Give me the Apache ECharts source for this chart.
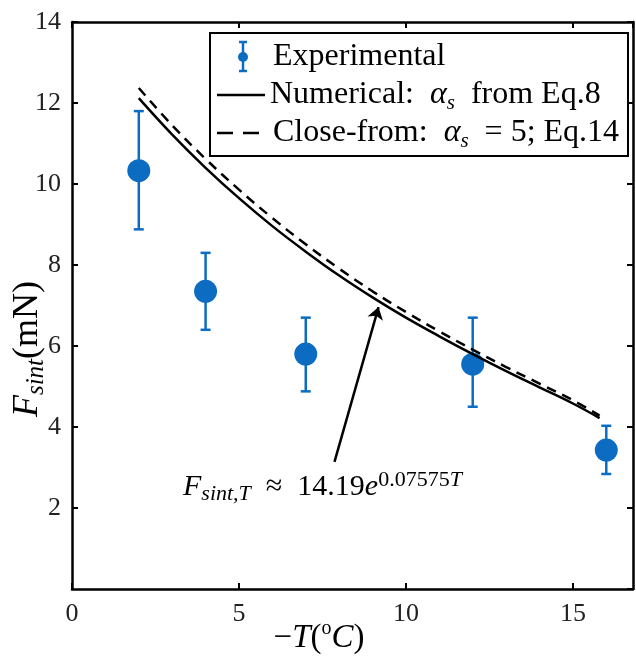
<!DOCTYPE html>
<html>
<head>
<meta charset="utf-8">
<script src="https://cdn.jsdelivr.net/npm/echarts@6/dist/echarts.min.js"></script>
<style>
  html, body { margin: 0; padding: 0; background: #fff; }
  #chart { width: 636px; height: 657px; }
</style>
</head>
<body>
<div id="chart"></div>
<script>
// experimental points (-T in degC, force in mN)
var expT = [2, 4, 7, 12, 16];
var expForce = [10.33, 7.35, 5.8, 5.55, 3.43];
var expLow = [8.88, 6.4, 4.88, 4.5, 2.84];
var expHigh = [11.8, 8.3, 6.7, 6.7, 4.03];

// model curves
var curveT = [2, 3, 4, 5, 6, 7, 8, 9, 10, 11, 12, 13, 14, 15, 15.8];
var numericalForce = [12.12, 11.22, 10.4, 9.65, 8.96, 8.33, 7.74, 7.2, 6.7, 6.24, 5.8, 5.38, 4.98, 4.58, 4.22];
var closedForce = [12.37, 11.45, 10.62, 9.86, 9.16, 8.51, 7.91, 7.35, 6.84, 6.36, 5.91, 5.48, 5.07, 4.66, 4.28];

// annotation arrow (tail -> head)
var arrowFrom = [7.86, 3.14];
var arrowTo = [9.18, 6.96];

var xTickStep = 5;
var yTickStep = 2;

var serif = '"Liberation Serif", "DejaVu Serif", serif';
var blue = '#0b6cc2';

function rich(size, subRatio) {
  var s = Math.round(size * (subRatio || 0.66));
  return {
    n: { fontFamily: serif, fontSize: size, lineHeight: size + 6, color: '#111' },
    i: { fontFamily: serif, fontStyle: 'italic', fontSize: size, lineHeight: size + 6, color: '#111' },
    sub: { fontFamily: serif, fontStyle: 'italic', fontSize: s, lineHeight: s, verticalAlign: 'bottom', color: '#111' },
    sup: { fontFamily: serif, fontSize: s, lineHeight: s, verticalAlign: 'top', color: '#111' },
    supi: { fontFamily: serif, fontStyle: 'italic', fontSize: s, lineHeight: s, verticalAlign: 'top', color: '#111' }
  };
}

var chart = echarts.init(document.getElementById('chart'));

var axisCommon = {
  axisLine: { show: true, onZero: false, lineStyle: { color: '#000', width: 2.5 } },
  axisTick: { show: true, inside: true, length: 6, lineStyle: { color: '#000', width: 2 } },
  splitLine: { show: false }
};

var option = {
  animation: false,
  backgroundColor: '#fff',
  grid: { left: 72, right: 3, top: 22, bottom: 68, containLabel: false, outerBoundsMode: 'none' },
  xAxis: [
    Object.assign({
      type: 'value', min: 0, max: 16.8, interval: xTickStep, position: 'bottom',
      axisLabel: { fontFamily: serif, fontSize: 26, color: '#222', margin: 12, showMaxLabel: false }
    }, axisCommon),
    Object.assign({
      type: 'value', min: 0, max: 16.8, interval: xTickStep, position: 'top',
      axisLabel: { show: false }
    }, axisCommon)
  ],
  yAxis: [
    Object.assign({
      type: 'value', min: 0, max: 14, interval: yTickStep, position: 'left',
      axisLabel: { fontFamily: serif, fontSize: 26, color: '#222', margin: 11, showMinLabel: false }
    }, axisCommon),
    Object.assign({
      type: 'value', min: 0, max: 14, interval: yTickStep, position: 'right',
      axisLabel: { show: false }
    }, axisCommon)
  ],
  series: [
    {
      type: 'custom',
      name: 'errors',
      data: expT.map(function (t, k) { return [t, expLow[k], expHigh[k]]; }),
      encode: { x: 0, y: [1, 2] },
      z: 2,
      renderItem: function (params, api) {
        var top = api.coord([api.value(0), api.value(2)]);
        var bot = api.coord([api.value(0), api.value(1)]);
        var cap = 5;
        var st = { stroke: blue, lineWidth: 2.5 };
        return {
          type: 'group',
          children: [
            { type: 'line', shape: { x1: top[0], y1: top[1], x2: bot[0], y2: bot[1] }, style: st },
            { type: 'line', shape: { x1: top[0] - cap, y1: top[1], x2: top[0] + cap, y2: top[1] }, style: st },
            { type: 'line', shape: { x1: bot[0] - cap, y1: bot[1], x2: bot[0] + cap, y2: bot[1] }, style: st }
          ]
        };
      }
    },
    {
      type: 'scatter',
      name: 'Experimental',
      data: expT.map(function (t, k) { return [t, expForce[k]]; }),
      symbol: 'circle',
      symbolSize: 23,
      itemStyle: { color: blue, opacity: 1 },
      z: 3
    },
    {
      type: 'line',
      name: 'Numerical',
      data: curveT.map(function (t, k) { return [t, numericalForce[k]]; }),
      showSymbol: false,
      smooth: 0.4,
      lineStyle: { color: '#000', width: 2.5 },
      z: 4
    },
    {
      type: 'line',
      name: 'Close-from',
      data: curveT.map(function (t, k) { return [t, closedForce[k]]; }),
      showSymbol: false,
      smooth: 0.4,
      lineStyle: { color: '#000', width: 2.5, type: [10, 7] },
      z: 4
    },
    {
      type: 'lines',
      coordinateSystem: 'cartesian2d',
      data: [{ coords: [arrowFrom, arrowTo] }],
      symbol: ['none', 'arrow'],
      symbolSize: [1, 12],
      lineStyle: { color: '#000', width: 2.5, opacity: 1, curveness: 0 },
      z: 5
    }
  ],
  graphic: [
    // axis titles
    {
      type: 'text', x: 28, y: 349, rotation: Math.PI / 2,
      style: {
        text: '{i|F}{sub|sint}{n|(mN)}',
        rich: rich(36, 0.7),
        align: 'center', verticalAlign: 'middle'
      }
    },
    {
      type: 'text', x: 319, y: 638,
      style: {
        text: '{n|\u2212}{i|T}{n|(}{sup|o}{i|C}{n|)}',
        rich: rich(33, 0.6),
        align: 'center', verticalAlign: 'middle'
      }
    },
    // legend box
    {
      type: 'rect', shape: { x: 210, y: 33, width: 418, height: 123 },
      style: { fill: '#fff', stroke: '#000', lineWidth: 2 }, z: 10
    },
    { type: 'line', shape: { x1: 243, y1: 42, x2: 243, y2: 71 }, style: { stroke: blue, lineWidth: 2.5 }, z: 11 },
    { type: 'line', shape: { x1: 239, y1: 42, x2: 247, y2: 42 }, style: { stroke: blue, lineWidth: 2.5 }, z: 11 },
    { type: 'line', shape: { x1: 239, y1: 71, x2: 247, y2: 71 }, style: { stroke: blue, lineWidth: 2.5 }, z: 11 },
    { type: 'circle', shape: { cx: 243, cy: 57, r: 5 }, style: { fill: blue }, z: 11 },
    {
      type: 'text', x: 273, y: 57, z: 11,
      style: { text: '{n|Experimental}', rich: rich(32), verticalAlign: 'middle' }
    },
    { type: 'line', shape: { x1: 217, y1: 95, x2: 265, y2: 95 }, style: { stroke: '#000', lineWidth: 2.5 }, z: 11 },
    {
      type: 'text', x: 270, y: 95, z: 11,
      style: { text: '{n|Numerical:  }{i|\u03b1}{sub|s}{n|  from Eq.8}', rich: rich(32), verticalAlign: 'middle' }
    },
    { type: 'line', shape: { x1: 217, y1: 133, x2: 265, y2: 133 }, style: { stroke: '#000', lineWidth: 2.5, lineDash: [16, 10] }, z: 11 },
    {
      type: 'text', x: 273, y: 133, z: 11,
      style: { text: '{n|Close-from:  }{i|\u03b1}{sub|s}{n|  = 5; Eq.14}', rich: rich(32), verticalAlign: 'middle' }
    },
    // fit annotation
    {
      type: 'text', x: 183, y: 487, z: 11,
      style: { text: '{i|F}{sub|sint,T}{n|  \u2248  14.19}{i|e}{sup|0.07575}{supi|T}', rich: rich(30, 0.72), verticalAlign: 'middle' }
    }
  ]
};

chart.setOption(option);
</script>
</body>
</html>
